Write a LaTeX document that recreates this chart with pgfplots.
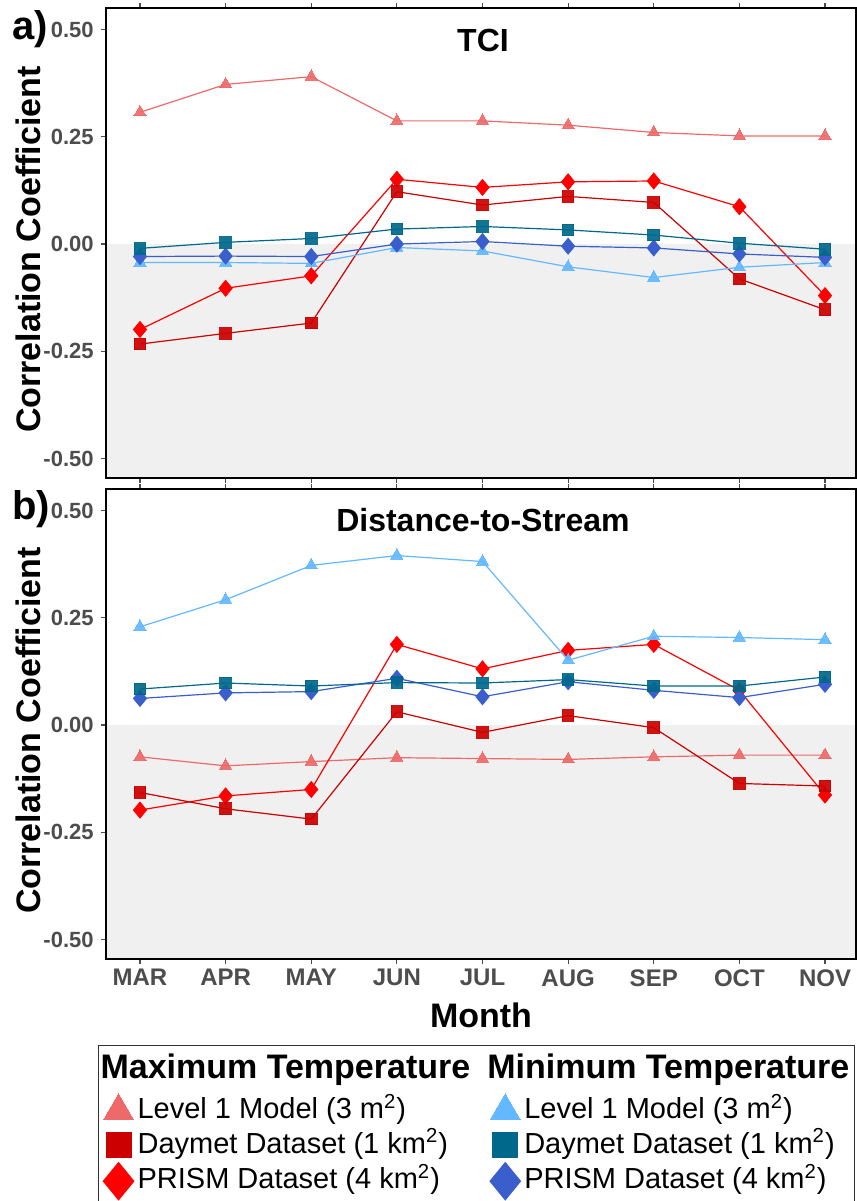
\documentclass[border=0pt]{standalone}
\usepackage{fontspec}
\setmainfont{Liberation Sans}
\usepackage{pgfplots}
\usepackage{pgfplotstable}
\pgfplotsset{compat=1.18}

\definecolor{maxlone}{HTML}{EE6A6A}
\definecolor{maxday}{HTML}{CC0000}
\definecolor{maxpri}{HTML}{FF0000}
\definecolor{minlone}{HTML}{63B8FF}
\definecolor{minday}{HTML}{00688B}
\definecolor{minpri}{HTML}{3A5FCD}
\definecolor{bggray}{HTML}{F0F0F0}
\definecolor{tickgray}{HTML}{4D4D4D}

% Correlation of stream temperature with TCI, by month (0 = MAR ... 8 = NOV)
\pgfplotstableread{
x  maxL1   maxDay  maxPri  minL1   minDay  minPri
0  0.307  -0.233  -0.199  -0.043  -0.010  -0.029
1  0.372  -0.208  -0.103  -0.043   0.004  -0.028
2  0.390  -0.184  -0.074  -0.045   0.013  -0.029
3  0.287   0.122   0.151  -0.008   0.035   0.000
4  0.287   0.091   0.132  -0.016   0.041   0.006
5  0.277   0.111   0.145  -0.053   0.033  -0.005
6  0.260   0.097   0.147  -0.078   0.021  -0.009
7  0.252  -0.081   0.087  -0.054   0.002  -0.023
8  0.252  -0.153  -0.120  -0.043  -0.012  -0.031
}\tci

% Correlation with distance-to-stream, by month
\pgfplotstableread{
x  maxL1   maxDay  maxPri  minL1   minDay  minPri
0 -0.074  -0.157  -0.198   0.229   0.084   0.062
1 -0.095  -0.195  -0.165   0.292   0.098   0.075
2 -0.085  -0.219  -0.150   0.372   0.091   0.078
3 -0.076   0.031   0.188   0.395   0.099   0.109
4 -0.078  -0.017   0.131   0.381   0.098   0.066
5 -0.080   0.022   0.174   0.151   0.106   0.101
6 -0.074  -0.006   0.188   0.207   0.091   0.081
7 -0.070  -0.136   0.081   0.204   0.091   0.064
8 -0.070  -0.142  -0.163   0.199   0.112   0.095
}\dist

\pgfplotsset{
  legend image code/.code={%
    \path[draw=none, fill=none] (0pt,-1pt) rectangle (17pt,1pt);
    \draw[#1] plot coordinates {(8.5pt,0pt)};
  },
  panel/.style={
    scale only axis, width=375pt, height=235pt,
    xmin=-0.397, xmax=8.362, ymin=-0.545, ymax=0.55,
    xtick={0,...,8},
    ytick={-0.5,-0.25,0,0.25,0.5},
    yticklabels={-0.50,-0.25,0.00,0.25,0.50},
    tick align=outside, major tick length=2.5pt,
    tick style={tickgray, line width=0.6pt},
    axis line style={line width=1.2pt, black},
    axis on top,
    yticklabel style={font=\bfseries\fontsize{11}{13}\selectfont, text=tickgray,
      inner sep=0pt, anchor=east, xshift=-3.5pt},
    xticklabel style={font=\bfseries\fontsize{12}{14}\selectfont, text=tickgray,
      inner sep=0pt, anchor=north, yshift=-2.5pt},
    ylabel={Correlation Coefficient},
    ylabel style={font=\bfseries\fontsize{17}{20}\selectfont,
      at={(axis description cs:-0.104,0.486)}, anchor=center},
  },
  ln/.style={no marks, line width=0.6pt, #1, forget plot},
  mk/.style 2 args={only marks, color=#1, mark=#2, forget plot,
    mark options={solid, line width=0pt, opacity=0.92}},
  legmk/.style 2 args={only marks, color=#1, mark=#2,
    mark options={solid, line width=0pt}},
}

% Lines first, then the markers on top of all lines
\newcommand\drawseries[1]{%
  \addplot[ln=maxlone] table[x=x,y=maxL1]{#1};
  \addplot[ln=maxpri]  table[x=x,y=maxPri]{#1};
  \addplot[ln=maxday]  table[x=x,y=maxDay]{#1};
  \addplot[ln=minlone] table[x=x,y=minL1]{#1};
  \addplot[ln=minpri]  table[x=x,y=minPri]{#1};
  \addplot[ln=minday]  table[x=x,y=minDay]{#1};
  \addplot[mk={maxlone}{triangle*}, mark size=3.5pt] table[x=x,y=maxL1]{#1};
  \addplot[mk={maxpri}{diamond*}, mark size=4pt, mark options={xscale=1.1}] table[x=x,y=maxPri]{#1};
  \addplot[mk={maxday}{square*}, mark size=2.9pt] table[x=x,y=maxDay]{#1};
  \addplot[mk={minlone}{triangle*}, mark size=3.5pt] table[x=x,y=minL1]{#1};
  \addplot[mk={minpri}{diamond*}, mark size=4pt, mark options={xscale=1.1}] table[x=x,y=minPri]{#1};
  \addplot[mk={minday}{square*}, mark size=2.9pt] table[x=x,y=minDay]{#1};
}

\newcommand\legtitle[1]{\hspace{-18.5pt}\bfseries\fontsize{17}{20}\selectfont #1}

\begin{document}
\begin{tikzpicture}
\path[use as bounding box] (0pt,0pt) rectangle (428.5pt,-600.5pt);

% a) TCI
\begin{axis}[panel, at={(53pt,-239pt)}, anchor=south west,
  xticklabels={,,,,,,,,}]
  \fill[bggray] (axis cs:-0.397,-0.545) rectangle (axis cs:8.362,0);
  \drawseries{\tci}
\end{axis}

% b) Distance-to-stream
\begin{axis}[panel, at={(53pt,-479.5pt)}, anchor=south west,
  xticklabels={MAR,APR,MAY,JUN,JUL,AUG,SEP,OCT,NOV},
  xlabel={Month},
  xlabel style={font=\bfseries\fontsize{17}{20}\selectfont,
    at={(axis description cs:0.5,-0.1447)}, anchor=base},
  legend columns=2,
  legend style={at={(axis description cs:-0.0107,-0.183)}, anchor=north west,
    draw=black!80, line width=0.6pt, inner xsep=1.5pt, inner ysep=4pt,
    font=\fontsize{14.5}{17}\selectfont,
    nodes={inner xsep=1pt, inner ysep=0pt, text height=12.5pt, text depth=4.75pt},
    cells={anchor=west}, row sep=0pt,
    /tikz/every even column/.append style={column sep=8pt}},
]
  \fill[bggray] (axis cs:-0.397,-0.545) rectangle (axis cs:8.362,0);
  \drawseries{\dist}

  \addlegendimage{empty legend}
  \addlegendentry[text depth=7.5pt]{\legtitle{Maximum Temperature}}
  \addlegendimage{empty legend}
  \addlegendentry[text depth=7.5pt]{\legtitle{Minimum Temperature}\hspace{20pt}}
  \addlegendimage{legmk={maxlone}{triangle*}, mark size=8.66pt}
  \addlegendentry{Level 1 Model (3 m\textsuperscript{2})}
  \addlegendimage{legmk={minlone}{triangle*}, mark size=8.66pt}
  \addlegendentry{Level 1 Model (3 m\textsuperscript{2})}
  \addlegendimage{legmk={maxday}{square*}, mark size=6.25pt}
  \addlegendentry{Daymet Dataset (1 km\textsuperscript{2})}
  \addlegendimage{legmk={minday}{square*}, mark size=6.25pt}
  \addlegendentry{Daymet Dataset (1 km\textsuperscript{2})}
  \addlegendimage{legmk={maxpri}{diamond*}, mark size=9.25pt, mark options={xscale=1.09}}
  \addlegendentry{PRISM Dataset (4 km\textsuperscript{2})}
  \addlegendimage{legmk={minpri}{diamond*}, mark size=9.25pt, mark options={xscale=1.09}}
  \addlegendentry{PRISM Dataset (4 km\textsuperscript{2})}
  % blank row: the legend box runs on past the lower edge
  \addlegendimage{empty legend}
  \addlegendentry{}
  \addlegendimage{empty legend}
  \addlegendentry{}
\end{axis}

% Panel tags and titles
\node[anchor=base west, font=\bfseries\fontsize{20}{24}\selectfont, inner sep=0pt] at (6pt,-19.5pt) {a)};
\node[anchor=base west, font=\bfseries\fontsize{20}{24}\selectfont, inner sep=0pt] at (6pt,-259.5pt) {b)};
\node[anchor=base, font=\bfseries\fontsize{16}{19}\selectfont, inner sep=0pt] at (241.5pt,-25.5pt) {TCI};
\node[anchor=base, font=\bfseries\fontsize{16}{19}\selectfont, inner sep=0pt] at (241.5pt,-265.5pt) {Distance-to-Stream};
\end{tikzpicture}
\end{document}
